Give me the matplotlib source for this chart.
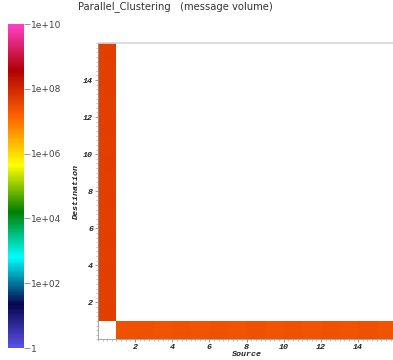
import numpy as np
import matplotlib
matplotlib.use("Agg")
import matplotlib.pyplot as plt
from matplotlib.colors import LinearSegmentedColormap, LogNorm
from matplotlib.ticker import MultipleLocator, FixedLocator

# ---- data ----
n_ranks = 16
# messages from source 0 to destinations 1..15
col0_values = [4.6e7, 4.5e7, 4.6e7, 4.5e7, 4.6e7, 4.5e7, 4.6e7, 4.5e7,
               4.6e7, 4.5e7, 4.6e7, 4.5e7, 4.6e7, 4.5e7, 4.6e7]
# messages from sources 1..15 to destination 0
row0_values = [2.5e7, 2.5e7, 2.4e7, 2.5e7, 2.4e7, 2.5e7, 2.4e7, 2.5e7,
               2.4e7, 2.5e7, 2.4e7, 2.5e7, 2.4e7, 2.5e7, 2.4e7]
x_ticks = [2, 4, 6, 8, 10, 12, 14]
y_ticks = [2, 4, 6, 8, 10, 12, 14]
cbar_ticks = [1, 1e2, 1e4, 1e6, 1e8, 1e10]
cbar_labels = ["1", "1e+02", "1e+04", "1e+06", "1e+08", "1e+10"]
title = "Parallel_Clustering   (message volume)"

M = np.full((n_ranks, n_ranks), np.nan)   # M[dest, source]
M[1:, 0] = col0_values
M[0, 1:] = row0_values

cmap = LinearSegmentedColormap.from_list("pv", [
    (0.0, "#5a50e6"),
    (0.133, "#06064e"),
    (0.28, "#00ffff"),
    (0.42, "#008000"),
    (0.565, "#ffff00"),
    (0.713, "#ff6400"),
    (0.858, "#b00000"),
    (1.0, "#ff40c8"),
])
norm = LogNorm(vmin=1, vmax=1e10)

fig = plt.figure(figsize=(3.93, 3.60), dpi=100)
ax = fig.add_axes([0.249, 0.057, 0.757, 0.8236])
edges = np.arange(n_ranks + 1)
mesh = ax.pcolormesh(edges, edges, np.ma.masked_invalid(M), cmap=cmap, norm=norm)
ax.set_xlim(0, 16)
ax.set_ylim(0, 16)

tick_font = dict(family="Liberation Mono", weight="bold", style="italic", size=6)
ax.xaxis.set_major_locator(FixedLocator(x_ticks))
ax.yaxis.set_major_locator(FixedLocator(y_ticks))
ax.xaxis.set_minor_locator(MultipleLocator(0.25))
ax.yaxis.set_minor_locator(MultipleLocator(0.25))
ax.set_xticklabels([str(t) for t in x_ticks], fontdict=tick_font, color="#222222")
ax.set_yticklabels([str(t) for t in y_ticks], fontdict=tick_font, color="#222222")
ax.tick_params(which="major", length=2.5, width=0.6, color="#888888", pad=1)
ax.tick_params(which="minor", length=1.5, width=0.5, color="#aaaaaa")
ax.set_xlabel("Source", fontdict=dict(family="Liberation Mono", weight="bold",
              style="italic", size=6), labelpad=0, color="#222222")
ax.set_ylabel("Destination", fontdict=dict(family="Liberation Mono", weight="bold",
              style="italic", size=6), labelpad=2, color="#222222")
for s in ["left", "bottom"]:
    ax.spines[s].set_color("#999999")
    ax.spines[s].set_linewidth(0.6)
ax.spines["top"].set_color("#d8d8d8")
ax.spines["top"].set_linewidth(1.2)
ax.spines["right"].set_visible(False)

cax = fig.add_axes([0.0204, 0.0333, 0.0407, 0.9])
cb = fig.colorbar(mesh, cax=cax)
cb.outline.set_visible(False)
cb.set_ticks(cbar_ticks)
cb.set_ticklabels(cbar_labels)
cax.minorticks_off()
cax.tick_params(length=4, width=0.6, color="#888888", labelsize=6.5,
                labelcolor="#444444", pad=1)

fig.text(175 / 393, 1 - 9 / 360, title, ha="center", va="baseline",
         fontsize=7.2, color="#333333")

fig.savefig("out.png", dpi=100)
